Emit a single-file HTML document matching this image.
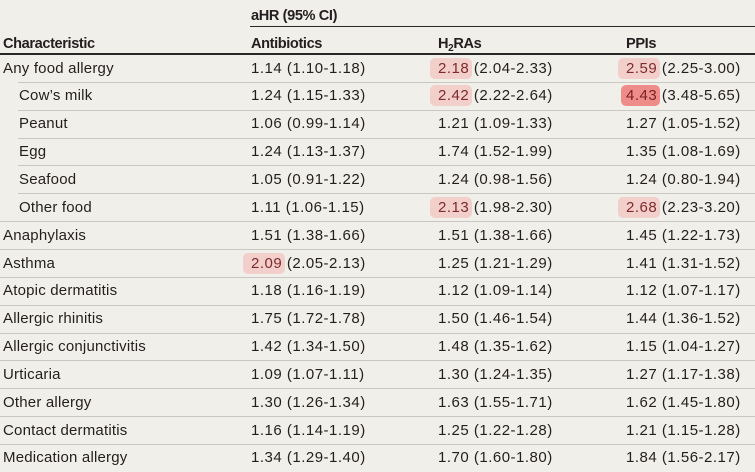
<!DOCTYPE html>
<html>
<head>
<meta charset="utf-8">
<style>
  html,body{margin:0;padding:0;}
  body{width:755px;height:471px;overflow:hidden;background:#f1efe9;position:relative;
       font-family:"Liberation Sans",sans-serif;color:#231f20;font-size:15px;}
  .h{position:absolute;font-weight:bold;letter-spacing:-0.4px;white-space:nowrap;line-height:18px;font-size:14.6px;}
  .ln{position:absolute;height:1px;background:#c9c7c1;right:0;}
  .dk{position:absolute;background:#2a2728;right:0;}
  .r{position:absolute;left:0;width:755px;height:27.85px;line-height:27.85px;white-space:nowrap;}
  .r span.c{position:absolute;top:0.6px;}
  .lab{letter-spacing:0.2px;}
  .v{letter-spacing:0.5px;}
  .b{background:#f3cfcb;color:#7d2b2b;border-radius:5px;padding:2px 3px 2px 8px;margin-left:-8px;margin-right:-3px;}
  .bd{background:#ee8c89;color:#7a1f22;border-radius:5px;padding:2px 3px 2px 5px;margin-left:-5px;margin-right:-3px;}
  sub{font-size:10px;vertical-align:-3px;line-height:0;}
</style>
</head>
<body>
  <div class="h" style="left:251px;top:7px;">aHR (95% CI)</div>
  <div class="dk" style="left:250px;top:25.5px;height:1.5px;"></div>
  <div class="h" style="left:3px;top:35px;">Characteristic</div>
  <div class="h" style="left:251px;top:35px;">Antibiotics</div>
  <div class="h" style="left:438px;top:35px;">H<sub>2</sub>RAs</div>
  <div class="h" style="left:626px;top:35px;">PPIs</div>
  <div class="dk" style="left:0;top:53px;height:1.8px;"></div>

  <!-- separators -->
  <div class="ln" style="left:18px;top:81.85px;"></div>
  <div class="ln" style="left:18px;top:109.7px;"></div>
  <div class="ln" style="left:18px;top:137.55px;"></div>
  <div class="ln" style="left:18px;top:165.4px;"></div>
  <div class="ln" style="left:18px;top:193.25px;"></div>
  <div class="ln" style="left:0;top:221.1px;"></div>
  <div class="ln" style="left:0;top:248.95px;"></div>
  <div class="ln" style="left:0;top:276.8px;"></div>
  <div class="ln" style="left:0;top:304.65px;"></div>
  <div class="ln" style="left:0;top:332.5px;"></div>
  <div class="ln" style="left:0;top:360.35px;"></div>
  <div class="ln" style="left:0;top:388.2px;"></div>
  <div class="ln" style="left:0;top:416.05px;"></div>
  <div class="ln" style="left:0;top:443.9px;"></div>

  <div class="r" style="top:54px;">
    <span class="c lab" style="left:3px;">Any food allergy</span>
    <span class="c v" style="left:251px;">1.14 (1.10-1.18)</span>
    <span class="c v" style="left:438px;"><span class="b">2.18</span> (2.04-2.33)</span>
    <span class="c v" style="left:626px;"><span class="b">2.59</span> (2.25-3.00)</span>
  </div>
  <div class="r" style="top:81.85px;">
    <span class="c lab" style="left:19px;">Cow’s milk</span>
    <span class="c v" style="left:251px;">1.24 (1.15-1.33)</span>
    <span class="c v" style="left:438px;"><span class="b">2.42</span> (2.22-2.64)</span>
    <span class="c v" style="left:626px;"><span class="bd">4.43</span> (3.48-5.65)</span>
  </div>
  <div class="r" style="top:109.7px;">
    <span class="c lab" style="left:19px;">Peanut</span>
    <span class="c v" style="left:251px;">1.06 (0.99-1.14)</span>
    <span class="c v" style="left:438px;">1.21 (1.09-1.33)</span>
    <span class="c v" style="left:626px;">1.27 (1.05-1.52)</span>
  </div>
  <div class="r" style="top:137.55px;">
    <span class="c lab" style="left:19px;">Egg</span>
    <span class="c v" style="left:251px;">1.24 (1.13-1.37)</span>
    <span class="c v" style="left:438px;">1.74 (1.52-1.99)</span>
    <span class="c v" style="left:626px;">1.35 (1.08-1.69)</span>
  </div>
  <div class="r" style="top:165.4px;">
    <span class="c lab" style="left:19px;">Seafood</span>
    <span class="c v" style="left:251px;">1.05 (0.91-1.22)</span>
    <span class="c v" style="left:438px;">1.24 (0.98-1.56)</span>
    <span class="c v" style="left:626px;">1.24 (0.80-1.94)</span>
  </div>
  <div class="r" style="top:193.25px;">
    <span class="c lab" style="left:19px;">Other food</span>
    <span class="c v" style="left:251px;">1.11 (1.06-1.15)</span>
    <span class="c v" style="left:438px;"><span class="b">2.13</span> (1.98-2.30)</span>
    <span class="c v" style="left:626px;"><span class="b">2.68</span> (2.23-3.20)</span>
  </div>
  <div class="r" style="top:221.1px;">
    <span class="c lab" style="left:3px;">Anaphylaxis</span>
    <span class="c v" style="left:251px;">1.51 (1.38-1.66)</span>
    <span class="c v" style="left:438px;">1.51 (1.38-1.66)</span>
    <span class="c v" style="left:626px;">1.45 (1.22-1.73)</span>
  </div>
  <div class="r" style="top:248.95px;">
    <span class="c lab" style="left:3px;">Asthma</span>
    <span class="c v" style="left:251px;"><span class="b">2.09</span> (2.05-2.13)</span>
    <span class="c v" style="left:438px;">1.25 (1.21-1.29)</span>
    <span class="c v" style="left:626px;">1.41 (1.31-1.52)</span>
  </div>
  <div class="r" style="top:276.8px;">
    <span class="c lab" style="left:3px;">Atopic dermatitis</span>
    <span class="c v" style="left:251px;">1.18 (1.16-1.19)</span>
    <span class="c v" style="left:438px;">1.12 (1.09-1.14)</span>
    <span class="c v" style="left:626px;">1.12 (1.07-1.17)</span>
  </div>
  <div class="r" style="top:304.65px;">
    <span class="c lab" style="left:3px;">Allergic rhinitis</span>
    <span class="c v" style="left:251px;">1.75 (1.72-1.78)</span>
    <span class="c v" style="left:438px;">1.50 (1.46-1.54)</span>
    <span class="c v" style="left:626px;">1.44 (1.36-1.52)</span>
  </div>
  <div class="r" style="top:332.5px;">
    <span class="c lab" style="left:3px;">Allergic conjunctivitis</span>
    <span class="c v" style="left:251px;">1.42 (1.34-1.50)</span>
    <span class="c v" style="left:438px;">1.48 (1.35-1.62)</span>
    <span class="c v" style="left:626px;">1.15 (1.04-1.27)</span>
  </div>
  <div class="r" style="top:360.35px;">
    <span class="c lab" style="left:3px;">Urticaria</span>
    <span class="c v" style="left:251px;">1.09 (1.07-1.11)</span>
    <span class="c v" style="left:438px;">1.30 (1.24-1.35)</span>
    <span class="c v" style="left:626px;">1.27 (1.17-1.38)</span>
  </div>
  <div class="r" style="top:388.2px;">
    <span class="c lab" style="left:3px;">Other allergy</span>
    <span class="c v" style="left:251px;">1.30 (1.26-1.34)</span>
    <span class="c v" style="left:438px;">1.63 (1.55-1.71)</span>
    <span class="c v" style="left:626px;">1.62 (1.45-1.80)</span>
  </div>
  <div class="r" style="top:416.05px;">
    <span class="c lab" style="left:3px;">Contact dermatitis</span>
    <span class="c v" style="left:251px;">1.16 (1.14-1.19)</span>
    <span class="c v" style="left:438px;">1.25 (1.22-1.28)</span>
    <span class="c v" style="left:626px;">1.21 (1.15-1.28)</span>
  </div>
  <div class="r" style="top:443.9px;">
    <span class="c lab" style="left:3px;">Medication allergy</span>
    <span class="c v" style="left:251px;">1.34 (1.29-1.40)</span>
    <span class="c v" style="left:438px;">1.70 (1.60-1.80)</span>
    <span class="c v" style="left:626px;">1.84 (1.56-2.17)</span>
  </div>
</body>
</html>
